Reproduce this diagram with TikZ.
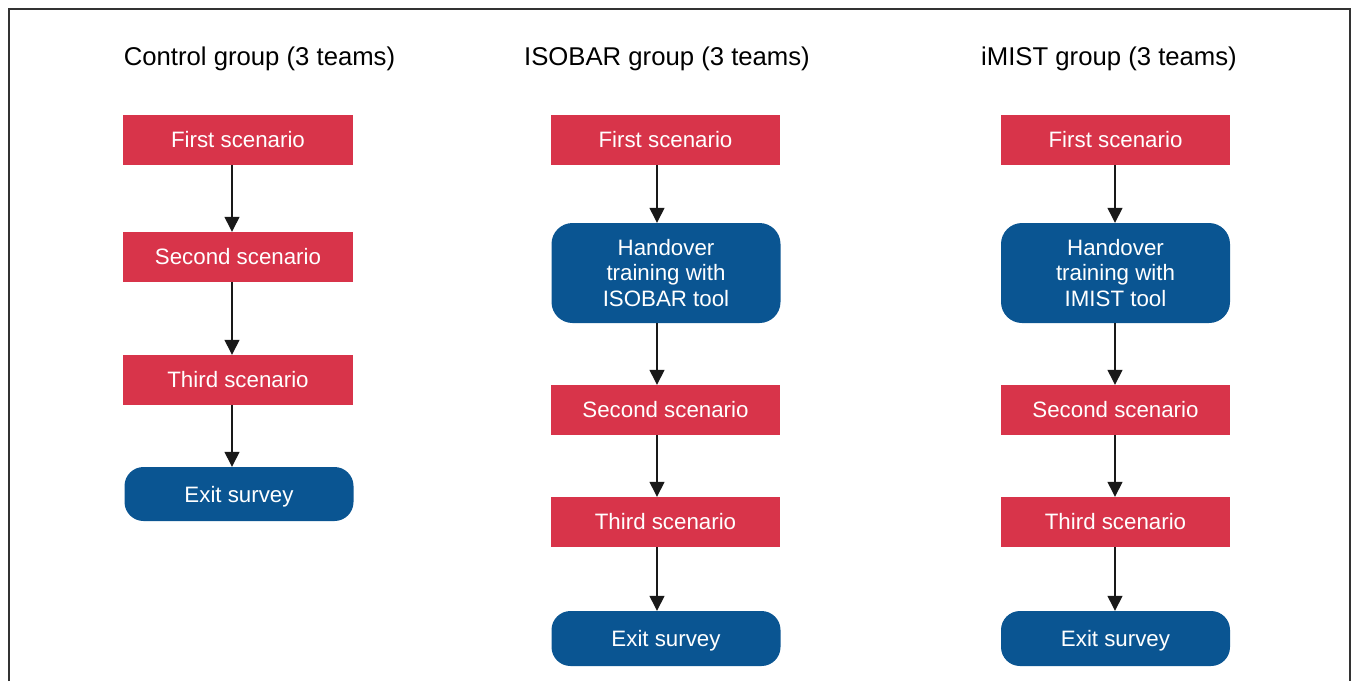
\documentclass[tikz,border=0pt]{standalone}
\usepackage{fontspec}
\setmainfont{Liberation Sans}
\usetikzlibrary{arrows.meta}
\definecolor{scenred}{HTML}{D8344A}
\definecolor{stepblue}{HTML}{0A5592}
\definecolor{framegray}{HTML}{333333}
\tikzset{
  grouptitle/.style={inner sep=0pt, font=\fontsize{25.7}{30}\selectfont, text=black},
  redbox/.style={fill=scenred, text=white, minimum width=230pt, minimum height=50pt,
    inner sep=0pt, font=\fontsize{22.3}{25.5}\selectfont},
  bluebox/.style={fill=stepblue, text=white, minimum width=229pt, rounded corners=19pt,
    inner sep=0pt, align=center, font=\fontsize{22.3}{25.5}\selectfont},
  exitbox/.style={bluebox, text depth=0pt},
  flow/.style={draw=black!90, line width=1.3pt, -{Triangle[length=15pt,width=15pt]}},
}
\begin{document}
\begin{tikzpicture}[x=1pt,y=-1pt]
\useasboundingbox (0,0) rectangle (1354,681);
% open frame around the three columns
\draw[framegray, line width=1.5pt] (9,681) -- (9,9) -- (1350,9) -- (1350,681);

% control group
\node[grouptitle] (ttlc) at (259.5,59) {Control group (3 teams)};
\node[redbox] (c1) at (238,140) {First scenario};
\node[redbox] (c2) at (238,257) {Second scenario};
\node[redbox] (c3) at (238,380) {Third scenario};
\node[exitbox, minimum height=54pt] (c4) at (239,494) {Exit survey};
\draw[flow] ([xshift=-6pt]c1.south) -- ([xshift=-6pt]c2.north);
\draw[flow] ([xshift=-6pt]c2.south) -- ([xshift=-6pt]c3.north);
\draw[flow] ([xshift=-6pt]c3.south) -- ([xshift=-7pt]c4.north);

% ISOBAR group
\node[grouptitle] (ttli) at (667,59) {ISOBAR group (3 teams)};
\node[redbox, minimum width=229pt] (i1) at (665.5,140) {First scenario};
\node[bluebox, minimum height=100pt, rounded corners=21pt] (i2) at (666,273)
  {Handover\\training with\\ISOBAR tool};
\node[redbox, minimum width=229pt] (i3) at (665.5,410) {Second scenario};
\node[redbox, minimum width=229pt] (i4) at (665.5,522) {Third scenario};
\node[exitbox, minimum height=55pt] (i5) at (666,638.5) {Exit survey};
\draw[flow] ([xshift=-8.5pt]i1.south) -- ([xshift=-9pt]i2.north);
\draw[flow] ([xshift=-9pt]i2.south) -- ([xshift=-8.5pt]i3.north);
\draw[flow] ([xshift=-8.5pt]i3.south) -- ([xshift=-8.5pt]i4.north);
\draw[flow] ([xshift=-8.5pt]i4.south) -- ([xshift=-9pt]i5.north);

% iMIST group
\node[grouptitle] (ttlm) at (1109,59) {iMIST group (3 teams)};
\node[redbox, minimum width=229pt] (m1) at (1115.5,140) {First scenario};
\node[bluebox, minimum height=100pt, rounded corners=21pt] (m2) at (1115.5,273)
  {Handover\\training with\\IMIST tool};
\node[redbox, minimum width=229pt] (m3) at (1115.5,410) {Second scenario};
\node[redbox, minimum width=229pt] (m4) at (1115.5,522) {Third scenario};
\node[exitbox, minimum height=55pt] (m5) at (1115.5,638.5) {Exit survey};
\draw[flow] ([xshift=-0.5pt]m1.south) -- ([xshift=-0.5pt]m2.north);
\draw[flow] ([xshift=-0.5pt]m2.south) -- ([xshift=-0.5pt]m3.north);
\draw[flow] ([xshift=-0.5pt]m3.south) -- ([xshift=-0.5pt]m4.north);
\draw[flow] ([xshift=-0.5pt]m4.south) -- ([xshift=-0.5pt]m5.north);
\end{tikzpicture}
\end{document}
